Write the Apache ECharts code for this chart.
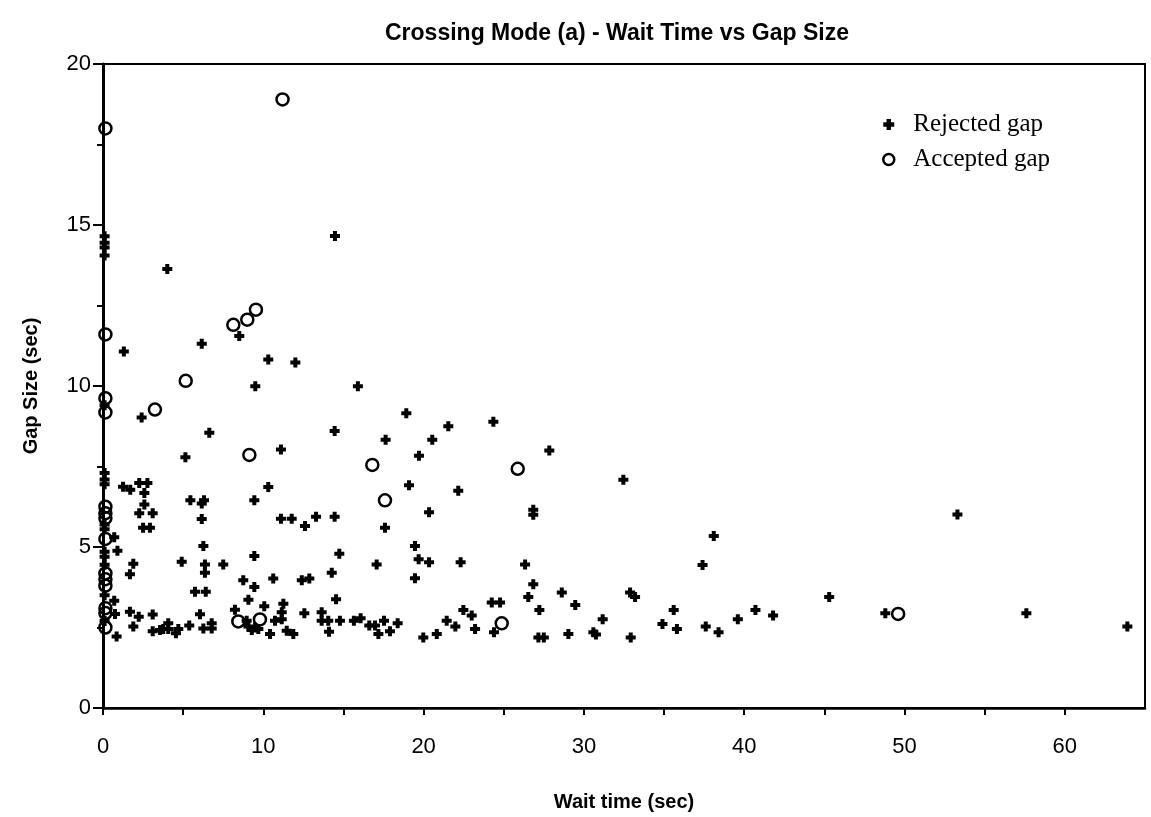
<!DOCTYPE html>
<html>
<head>
<meta charset="utf-8">
<script src="https://cdn.jsdelivr.net/npm/echarts@6/dist/echarts.min.js"></script>
<style>html,body{margin:0;padding:0;background:#fff;}#c{width:1151px;height:817px;}</style>
</head>
<body>
<div id="c"></div>
<script>
// Rejected gaps: [wait time (sec), gap size (sec)]
const rejectedGap = [
  [0.1,14.65],[0.1,14.45],[0.1,14.3],[0.1,14.05],[0.1,9.4],[0.1,7.3],[0.1,7.1],[0.1,6.95],
  [0.1,5.7],[0.1,5.55],[0.1,4.85],[0.1,4.7],[0.1,4.45],[0.1,3.5],[0.1,2.7],
  [0.7,5.3],[0.9,4.88],[0.7,3.33],[0.75,2.92],[0.85,2.22],[1.3,11.07],[1.25,6.87],[1.7,6.78],
  [2.26,6.99],[2.77,6.99],[2.58,6.68],[2.58,6.32],[2.26,6.05],[3.1,6.05],[2.5,5.6],[2.93,5.6],
  [2.41,9.02],[4.01,13.63],[6.16,11.31],[8.5,11.55],[10.31,10.82],[12.0,10.73],[9.5,9.99],
  [15.9,9.99],[6.63,8.55],[14.45,8.6],[5.14,7.79],[11.1,8.03],[10.31,6.86],[5.45,6.45],
  [6.3,6.45],[6.16,6.35],[9.44,6.45],[6.16,5.87],[11.1,5.88],[11.77,5.88],[13.29,5.94],
  [14.45,5.94],[12.6,5.65],[6.26,5.03],[14.74,4.79],[9.44,4.72],[1.89,4.48],[1.68,4.15],
  [4.91,4.54],[6.36,4.46],[6.36,4.2],[7.5,4.46],[8.75,3.97],[9.44,3.76],[10.62,4.02],
  [12.4,3.97],[12.87,4.02],[14.27,4.2],[5.74,3.61],[6.41,3.61],[9.07,3.36],[14.54,3.38],
  [10.06,3.16],[11.25,3.24],[11.15,2.97],[8.23,3.05],
  [1.68,2.99],[2.23,2.83],[1.89,2.53],[3.1,2.9],[3.1,2.38],[3.56,2.42],[3.76,2.45],[4.07,2.63],
  [4.07,2.45],[4.55,2.32],[4.7,2.45],[5.38,2.56],[6.05,2.91],[6.26,2.47],[6.78,2.63],[6.78,2.47],
  [8.96,2.71],[9.07,2.53],[9.48,2.5],[9.28,2.42],[9.69,2.45],[10.42,2.3],[10.73,2.71],[11.15,2.76],
  [11.46,2.4],[11.87,2.3],[12.56,2.94],[13.64,2.97],[13.64,2.71],[14.05,2.71],[14.1,2.37],
  [14.78,2.71],[15.65,2.71],[16.07,2.79],[16.61,2.56],[16.97,2.56],[17.18,2.3],[17.53,2.71],
  [17.9,2.38],[18.38,2.63],[19.98,2.19],[20.82,2.3],[21.44,2.71],[21.98,2.53],[22.48,3.04],
  [23.0,2.87],[23.21,2.45],[24.25,3.28],[24.77,3.28],[24.39,2.35],[27.16,2.19],[27.5,2.19],
  [29.03,2.3],[30.59,2.35],[30.75,2.28],[28.62,3.59],[29.46,3.2],[31.17,2.76],[32.88,3.59],
  [33.19,3.45],[32.92,2.19],[27.22,3.04],[26.53,3.45],[26.84,3.84],[26.33,4.46],[22.31,4.53],
  [19.46,5.03],[19.69,4.62],[20.34,4.53],[19.46,4.03],[17.07,4.46],[17.59,5.6],[20.34,6.08],
  [26.84,6.16],[26.84,6.0],[14.47,14.66],[18.92,9.15],[17.63,8.33],[20.54,8.33],[21.54,8.75],
  [24.35,8.89],[19.71,7.83],[27.84,8.0],[32.46,7.09],[19.09,6.92],[22.16,6.75],[53.3,6.01],
  [38.1,5.34],[37.4,4.44],[35.6,3.04],[34.9,2.61],[35.8,2.45],[37.6,2.53],[38.4,2.35],
  [39.6,2.76],[40.7,3.04],[41.8,2.87],[45.3,3.45],[48.8,2.94],[57.6,2.94],[63.9,2.53]
];
// Accepted gaps: [wait time (sec), gap size (sec)]
const acceptedGap = [
  [0.15,18.0],[11.2,18.9],[0.15,11.6],[8.13,11.9],[9.0,12.06],[9.54,12.37],[5.16,10.16],
  [0.15,9.62],[0.15,9.18],[3.24,9.27],[9.13,7.86],[16.8,7.55],[25.87,7.43],[17.59,6.45],
  [0.15,6.25],[0.15,6.05],[0.15,5.9],[0.15,5.25],[0.15,4.18],[0.15,4.0],[0.15,3.8],
  [0.15,3.1],[0.15,2.95],[0.15,2.5],[8.44,2.69],[9.79,2.75],[24.87,2.63],[49.6,2.92]
];
const seriesNames = ['Rejected gap', 'Accepted gap'];
const titleText = 'Crossing Mode (a) - Wait Time vs Gap Size';
const xName = 'Wait time (sec)';
const yName = 'Gap Size (sec)';

const plusPath = 'path://M3,0H7V3H10V7H7V10H3V7H0V3H3Z';
const chart = echarts.init(document.getElementById('c'), null, {renderer: 'canvas'});
chart.setOption({
  animation: false,
  backgroundColor: '#fff',
  title: {
    text: titleText,
    left: 380, top: 17,
    textStyle: {fontFamily: 'Liberation Sans', fontWeight: 'bold', fontSize: 23, color: '#000'}
  },
  legend: {
    orient: 'vertical',
    left: 877, top: 107,
    itemGap: 10,
    itemWidth: 11, itemHeight: 11,
    textStyle: {fontFamily: 'Liberation Serif', fontSize: 25, color: '#000', padding: [0, 0, 0, 14]},
    data: [
      {name: seriesNames[0], icon: plusPath, itemStyle: {color: '#000', opacity: 1}},
      {name: seriesNames[1], icon: 'circle', itemStyle: {color: 'transparent', borderColor: '#000', borderWidth: 2.5, opacity: 1}}
    ]
  },
  grid: {left: 103, right: 6, top: 64, bottom: 106, show: true, borderColor: '#000', borderWidth: 2},
  xAxis: {
    type: 'value', min: 0, max: 65, interval: 5,
    name: xName, nameLocation: 'middle', nameGap: 84,
    nameTextStyle: {fontFamily: 'Liberation Sans', fontWeight: 'bold', fontSize: 20, color: '#000'},
    axisLine: {show: true, lineStyle: {color: '#000', width: 2.5}},
    axisTick: {show: true, length: 7, lineStyle: {color: '#000', width: 2}},
    axisLabel: {
      margin: 28, color: '#000', fontFamily: 'Liberation Sans', fontSize: 22,
      showMaxLabel: false,
      formatter: v => (v % 10 === 0 ? String(v) : '')
    },
    splitLine: {show: false}
  },
  yAxis: {
    type: 'value', min: 0, max: 20, interval: 5,
    name: yName, nameLocation: 'middle', nameGap: 62, nameRotate: 90,
    nameTextStyle: {fontFamily: 'Liberation Sans', fontWeight: 'bold', fontSize: 20, color: '#000'},
    axisLine: {show: true, lineStyle: {color: '#000', width: 3}},
    axisTick: {show: true, length: 10, lineStyle: {color: '#000', width: 2}},
    minorTick: {show: true, splitNumber: 2, length: 6, lineStyle: {color: '#000', width: 2}},
    axisLabel: {margin: 12, color: '#000', fontFamily: 'Liberation Sans', fontSize: 22},
    splitLine: {show: false}
  },
  series: [
    {
      name: seriesNames[0], type: 'scatter', data: rejectedGap,
      symbol: plusPath, symbolSize: 10,
      itemStyle: {color: '#000', opacity: 1}
    },
    {
      name: seriesNames[1], type: 'scatter', data: acceptedGap,
      symbol: 'circle', symbolSize: [12, 12],
      itemStyle: {color: 'transparent', borderColor: '#000', borderWidth: 2.5, opacity: 1}
    }
  ]
});
</script>
</body>
</html>
